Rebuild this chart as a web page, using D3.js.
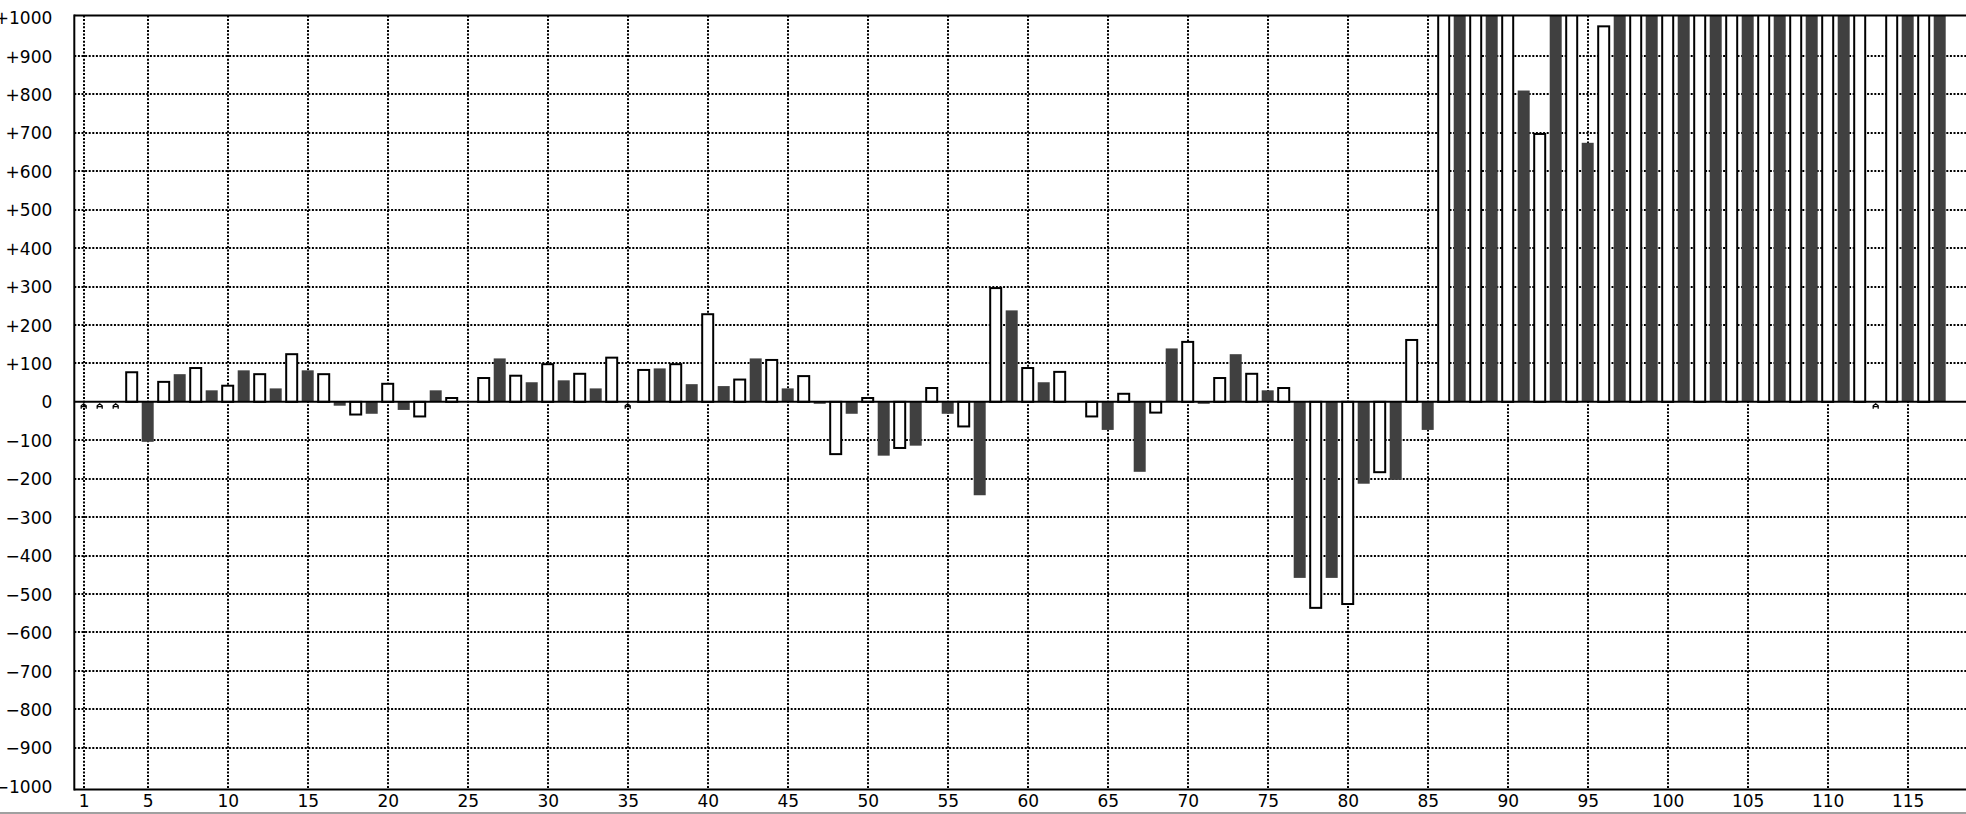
<!DOCTYPE html>
<html>
<head>
<meta charset="utf-8">
<script src="https://cdn.jsdelivr.net/npm/d3@7/dist/d3.min.js"></script>
<style>
  html, body { margin: 0; padding: 0; background: #fff; }
  svg { display: block; }
  text { font-family: "DejaVu Sans", Verdana, sans-serif; font-size: 17px; fill: #000; }
</style>
</head>
<body>
<svg id="chart" width="1966" height="814"></svg>
<script>
// ---- data ----
const categories = d3.range(1, 118); // 1 .. 117
// null = no data (drawn as a small marker on the zero line)
const values = [
  null, null, null, 77, -104, 52, 72, 88, 30, 42,          // 1-10
  82, 72, 35, 124, 82, 72, -10, -33, -31, 47,              // 11-20
  -21, -38, 30, 10, 0, 62, 113, 68, 51, 98,                // 21-30
  56, 73, 35, 115, null, 83, 87, 98, 46, 228,              // 31-40
  41, 58, 113, 109, 35, 67, -5, -136, -31, 10,             // 41-50
  -140, -120, -114, 36, -31, -64, -243, 296, 238, 88,      // 51-60
  51, 78, 0, -38, -73, 21, -182, -28, 139, 156,            // 61-70
  -5, 62, 124, 73, 30, 36, -458, -536, -458, -526,         // 71-80
  -213, -183, -203, 161, -73, 1200, 1200, 1200, 1200, 1200,// 81-90
  810, 697, 1200, 1200, 674, 977, 1200, 1200, 1200, 1200,  // 91-100
  1200, 1200, 1200, 1200, 1200, 1200, 1200, 1200, 1200, 1200, // 101-110
  1200, 1200, null, 1200, 1200, 1200, 1200                 // 111-117
];
const xTickValues = [1, 5, 10, 15, 20, 25, 30, 35, 40, 45, 50, 55, 60, 65, 70, 75, 80, 85, 90, 95, 100, 105, 110, 115];
const yTickValues = [1000, 900, 800, 700, 600, 500, 400, 300, 200, 100, 0, -100, -200, -300, -400, -500, -600, -700, -800, -900, -1000];
const yTickLabels = ["+1000", "+900", "+800", "+700", "+600", "+500", "+400", "+300", "+200", "+100", "0",
  "\u2212100", "\u2212200", "\u2212300", "\u2212400", "\u2212500", "\u2212600", "\u2212700", "\u2212800", "\u2212900", "\u22121000"];

// ---- layout ----
const W = 1966, H = 814;
const plotLeft = 74.3, plotRight = W;
const borderTop = 15.5, borderBottom = 789.5;
const barW = 12;

const svg = d3.select("#chart");
svg.append("rect").attr("width", W).attr("height", H).attr("fill", "#fff");

const x = d3.scaleLinear().domain([1, 115]).range([83.7, 1907.7]);
const y = d3.scaleLinear().domain([-1000, 1000]).range([786.2, 17.5]);

svg.append("defs").append("clipPath").attr("id", "plotclip")
  .append("rect").attr("x", plotLeft).attr("y", borderTop)
  .attr("width", plotRight - plotLeft).attr("height", borderBottom - borderTop);

// grid
const grid = svg.append("g").attr("stroke", "#000").attr("stroke-width", 2)
  .attr("stroke-dasharray", "2,1.6").attr("fill", "none");
grid.selectAll("line.h").data(yTickValues.filter(v => v !== 0 && Math.abs(v) !== 1000))
  .join("line").attr("class", "h")
  .attr("x1", plotLeft).attr("x2", plotRight)
  .attr("y1", d => Math.round(y(d))).attr("y2", d => Math.round(y(d)));
grid.selectAll("line.v").data(xTickValues)
  .join("line").attr("class", "v")
  .attr("x1", d => Math.round(x(d))).attr("x2", d => Math.round(x(d)))
  .attr("y1", borderTop).attr("y2", borderBottom);

// bars
const data = categories.map((c, i) => ({ c, v: values[i], dark: c % 2 === 1 }));
const bars = svg.append("g").attr("clip-path", "url(#plotclip)");
const y0 = y(0);
bars.selectAll("rect.dark").data(data.filter(d => d.v !== null && d.v !== 0 && d.dark))
  .join("rect").attr("class", "dark")
  .attr("x", d => x(d.c) - barW / 2).attr("width", barW)
  .attr("y", d => Math.min(y(d.v), y0)).attr("height", d => Math.abs(y(d.v) - y0))
  .attr("fill", "#404040");
bars.selectAll("rect.light").data(data.filter(d => d.v !== null && d.v !== 0 && !d.dark))
  .join("rect").attr("class", "light")
  .attr("x", d => x(d.c) - (barW - 1) / 2).attr("width", barW - 1)
  .attr("y", d => Math.min(y(d.v), y0)).attr("height", d => Math.abs(y(d.v) - y0))
  .attr("fill", "#fff").attr("stroke", "#000").attr("stroke-width", 2);

// zero line
svg.append("line").attr("x1", plotLeft).attr("x2", plotRight)
  .attr("y1", y0).attr("y2", y0).attr("stroke", "#000").attr("stroke-width", 2);

// no-data markers
svg.append("g").selectAll("path").data(data.filter(d => d.v === null))
  .join("path")
  .attr("d", d => {
    const cx = x(d.c), t = y0 + 1;
    return `M${cx - 2.5},${t + 6} L${cx - 2.5},${t + 3} L${cx},${t + 1} L${cx + 2.5},${t + 3} L${cx + 2.5},${t + 6} M${cx - 2.5},${t + 3.8} H${cx + 2.5}`;
  })
  .attr("fill", "none").attr("stroke", "#000").attr("stroke-width", 1.3);

// frame
svg.append("line").attr("x1", plotLeft).attr("x2", plotRight)
  .attr("y1", borderTop).attr("y2", borderTop).attr("stroke", "#000").attr("stroke-width", 2);
svg.append("line").attr("x1", plotLeft).attr("x2", plotRight)
  .attr("y1", borderBottom).attr("y2", borderBottom).attr("stroke", "#000").attr("stroke-width", 2);
svg.append("line").attr("x1", plotLeft).attr("x2", plotLeft)
  .attr("y1", borderTop - 1).attr("y2", borderBottom + 1).attr("stroke", "#000").attr("stroke-width", 2);

// y axis labels
const yAxis = d3.axisLeft(y).tickValues(yTickValues)
  .tickFormat((d, i) => yTickLabels[i]).tickSize(0).tickPadding(22);
const gy = svg.append("g").attr("transform", `translate(${plotLeft},0)`).call(yAxis);
gy.select(".domain").remove();
gy.selectAll("text").attr("font-family", "DejaVu Sans").attr("font-size", 17).attr("fill", "#000")
  .attr("dy", "0.36em");

// x axis labels
const xAxis = d3.axisBottom(x).tickValues(xTickValues).tickFormat(d3.format("d")).tickSize(0).tickPadding(5);
const gx = svg.append("g").attr("transform", `translate(0,${borderBottom})`).call(xAxis);
gx.select(".domain").remove();
gx.selectAll("text").attr("font-family", "DejaVu Sans").attr("font-size", 17).attr("fill", "#000");

// bottom grey band
svg.append("rect").attr("x", 0).attr("y", 812).attr("width", W).attr("height", 2).attr("fill", "#a0a0a0");
</script>
</body>
</html>
